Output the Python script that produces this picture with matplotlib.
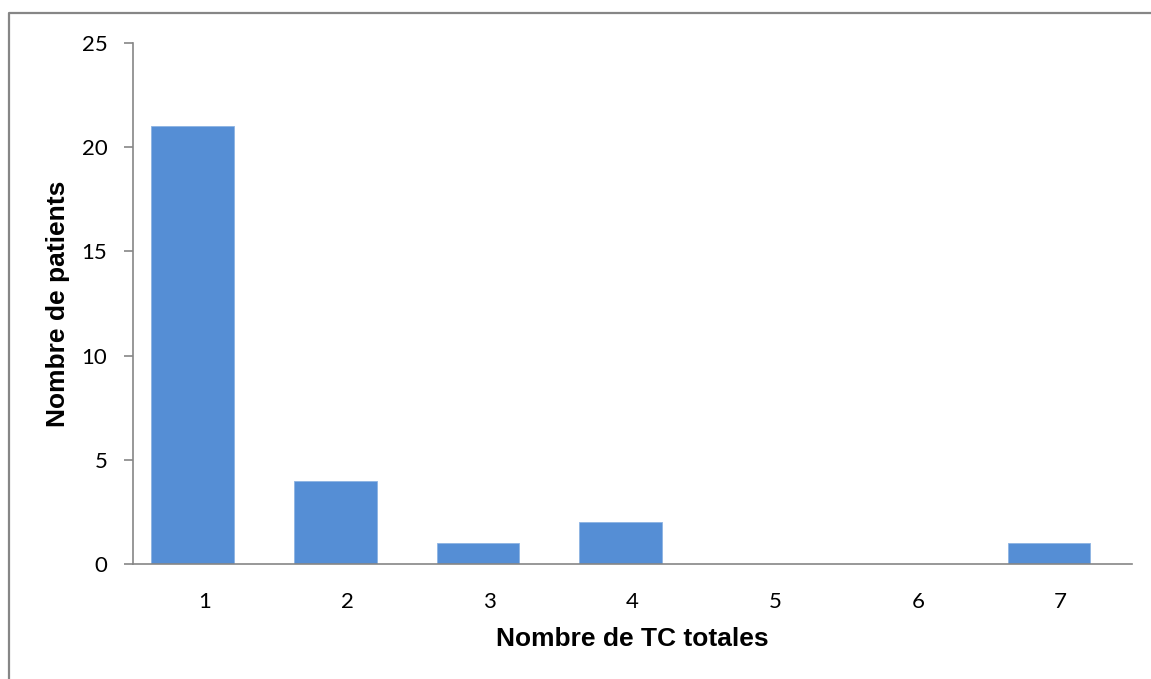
import matplotlib
matplotlib.use("Agg")
import matplotlib.pyplot as plt
from matplotlib.lines import Line2D

categories = ["1", "2", "3", "4", "5", "6", "7"]
patients = [21, 4, 1, 2, 0, 0, 1]
yticks = [0, 5, 10, 15, 20, 25]

W, H = 1151, 679
fig = plt.figure(figsize=(W / 100, H / 100), dpi=100)
# outer chart-area frame (only top and left edges visible in the crop)
fig.lines.append(Line2D([8.5 / W, 8.5 / W, 1.0], [0.0, 1 - 13 / H, 1 - 13 / H],
                        transform=fig.transFigure, color="#868686", linewidth=1.6))

ax = fig.add_axes([133 / W, 1 - 564 / H, (1132 - 133) / W, (564 - 43) / H])
x = list(range(len(categories)))
offset = -0.082
ax.bar([xi + offset for xi in x], patients, width=0.58, color="#558ED5",
       edgecolor="#8DB3E2", linewidth=0.6, zorder=2)
ax.set_xlim(-0.5, len(categories) - 0.5)
ax.set_ylim(0, 25)
ax.set_yticks(yticks)
ax.set_xticks(x)
ax.set_xticklabels(categories)

for s in ["top", "right"]:
    ax.spines[s].set_visible(False)
for s in ["left", "bottom"]:
    ax.spines[s].set_color("#868686")
    ax.spines[s].set_linewidth(1.2)

ax.tick_params(axis="y", length=6.5, width=1.2, color="#868686", pad=12,
               labelsize=16)
ax.tick_params(axis="x", length=0, pad=20, labelsize=16)
for lab in ax.get_xticklabels() + ax.get_yticklabels():
    lab.set_fontfamily("Lato")

ax.set_xlabel("Nombre de TC totales", fontsize=19, fontweight="bold",
              family="Liberation Sans", labelpad=11)
ax.set_ylabel("Nombre de patients", fontsize=19, fontweight="bold",
              family="Liberation Sans", labelpad=8)

fig.savefig("out.png", dpi=100)
